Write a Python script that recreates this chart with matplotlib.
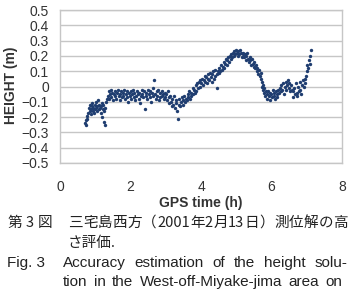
import numpy as np
import matplotlib
matplotlib.use("Agg")
import matplotlib.pyplot as plt

# GPS time (h) and height solution (m)
gps_time = [
    # start of session
    0.71, 0.73, 0.74, 0.76, 0.78, 0.80,
    0.82, 0.84, 0.85, 0.87, 0.88, 0.90, 0.91, 0.93, 0.95, 0.96,
    0.98, 1.00, 1.01, 1.03, 1.05, 1.06, 1.08, 1.10, 1.11, 1.13,
    1.15, 1.17, 1.18, 1.20, 1.21, 1.23, 1.24, 1.26, 1.27, 1.29, 1.31, 1.33,
    # flat part
    1.36, 1.38, 1.40, 1.42, 1.44, 1.46, 1.48, 1.51, 1.53, 1.55,
    1.57, 1.60, 1.62, 1.64, 1.66, 1.69, 1.71, 1.73, 1.75, 1.78,
    1.80, 1.82, 1.84, 1.87, 1.89, 1.91, 1.93, 1.96, 1.98, 2.00,
    2.02, 2.05, 2.07, 2.09, 2.11, 2.14, 2.16, 2.18, 2.20, 2.23,
    2.25, 2.27, 2.29, 2.32, 2.34, 2.36, 2.38, 2.41, 2.43, 2.45,
    2.47, 2.50, 2.52, 2.54, 2.56, 2.59, 2.61, 2.63, 2.65, 2.67,
    2.70, 2.72, 2.74, 2.76, 2.79, 2.81, 2.83, 2.85, 2.88, 2.90,
    2.92, 2.94, 2.97, 2.99,
    # small dip
    3.01, 3.03, 3.05, 3.08, 3.10, 3.12, 3.14, 3.17, 3.19, 3.21,
    3.23, 3.26, 3.28, 3.30, 3.32, 3.35, 3.37, 3.39, 3.41, 3.44,
    3.46, 3.48, 3.50, 3.53, 3.55, 3.57,
    # rise
    3.60, 3.62, 3.64, 3.67, 3.69, 3.71, 3.73, 3.76, 3.78, 3.80,
    3.82, 3.85, 3.87, 3.89, 3.91, 3.94, 3.96, 3.98,
    4.01, 4.03, 4.05, 4.08, 4.10, 4.12, 4.14, 4.17, 4.19, 4.21,
    4.23, 4.26, 4.28, 4.30, 4.32, 4.35, 4.37, 4.39, 4.41, 4.44, 4.46, 4.48,
    4.50, 4.52, 4.55, 4.57, 4.59, 4.61, 4.64, 4.66, 4.68, 4.70,
    4.73, 4.75, 4.77, 4.79, 4.82, 4.84,
    # peak
    4.86, 4.88, 4.91, 4.93, 4.95, 4.97, 5.00, 5.02, 5.04, 5.06,
    5.09, 5.11, 5.13, 5.15, 5.18,
    5.20, 5.22, 5.24, 5.27, 5.29, 5.31, 5.33, 5.36, 5.38, 5.40,
    5.42, 5.45, 5.47, 5.49, 5.51, 5.54,
    5.56, 5.58, 5.60, 5.63, 5.65, 5.67, 5.69, 5.71,
    5.73, 5.74, 5.76, 5.77, 5.79, 5.80, 5.82, 5.84,
    # trough
    5.86, 5.88, 5.90, 5.92, 5.95, 5.97, 5.99, 6.01, 6.04, 6.06,
    6.08, 6.10, 6.13, 6.15, 6.17, 6.19,
    6.22, 6.24, 6.26, 6.28, 6.31, 6.33, 6.35, 6.37, 6.40, 6.42,
    6.44, 6.46, 6.49, 6.51, 6.53, 6.55, 6.58,
    6.60, 6.62, 6.64, 6.67, 6.69, 6.71, 6.73, 6.76, 6.78, 6.80,
    6.82, 6.85, 6.87, 6.89, 6.91, 6.94,
    # final rise
    6.96, 6.98, 7.00, 7.02, 7.04, 7.06, 7.08, 7.10, 7.12,
]
height = [
    -0.24, -0.22, -0.25, -0.21, -0.19, -0.17,
    -0.14, -0.16, -0.12, -0.15, -0.18, -0.13, -0.11, -0.16, -0.14, -0.17,
    -0.12, -0.15, -0.10, -0.14, -0.16, -0.13, -0.09, -0.15, -0.12, -0.14,
    -0.13, -0.17, -0.11, -0.20, -0.15, -0.12, -0.23, -0.16, -0.25, -0.14, -0.10, -0.08,
    -0.06, -0.03, -0.08, -0.05, -0.02, -0.07, -0.04, -0.09, -0.05, -0.03,
    -0.06, -0.08, -0.04, -0.02, -0.06, -0.05, -0.09, -0.03, -0.07, -0.04,
    -0.06, -0.02, -0.08, -0.05, -0.03, -0.07, -0.10, -0.04, -0.06, -0.03,
    -0.08, -0.05, -0.02, -0.07, -0.04, -0.09, -0.06, -0.03, -0.05, -0.08,
    -0.04, -0.11, -0.06, -0.02, -0.05, -0.07, -0.03, -0.15, -0.06, -0.04,
    -0.08, -0.02, -0.05, -0.07, -0.03, -0.10, -0.04, -0.06, -0.01, 0.04,
    -0.05, -0.08, -0.03, -0.06, -0.02, -0.09, -0.04, -0.07, -0.03, -0.06,
    -0.05, -0.08, -0.04, -0.07,
    -0.05, -0.09, -0.03, -0.07, -0.11, -0.06, -0.10, -0.13, -0.08, -0.12,
    -0.06, -0.14, -0.09, -0.11, -0.16, -0.21, -0.12, -0.08, -0.13, -0.10,
    -0.07, -0.12, -0.09, -0.06, -0.10, -0.08,
    -0.09, -0.05, -0.07, -0.03, -0.08, -0.04, -0.06, -0.01, -0.05, -0.02,
    -0.04, 0.01, -0.03, 0.02, -0.01, 0.03, 0.00, 0.04,
    0.02, 0.05, 0.01, 0.04, 0.07, 0.03, 0.06, 0.02, 0.08, 0.05,
    0.04, 0.09, 0.06, 0.03, 0.08, 0.10, 0.05, 0.07, 0.11, 0.08, -0.01, 0.10,
    0.09, 0.12, 0.10, 0.14, 0.11, 0.13, 0.16, 0.12, 0.15, 0.18,
    0.14, 0.17, 0.19, 0.16, 0.20, 0.18,
    0.21, 0.19, 0.22, 0.20, 0.23, 0.21, 0.24, 0.22, 0.20, 0.23,
    0.21, 0.24, 0.22, 0.19, 0.21,
    0.22, 0.19, 0.21, 0.17, 0.20, 0.22, 0.18, 0.16, 0.19, 0.17,
    0.14, 0.18, 0.15, 0.13, 0.16, 0.12,
    0.14, 0.10, 0.12, 0.08, 0.11, 0.07, 0.09, 0.05,
    0.03, 0.00, -0.02, 0.01, -0.04, -0.01, -0.06, -0.03,
    -0.05, -0.08, -0.03, -0.06, -0.04, -0.09, -0.05, -0.07, -0.02, -0.06,
    -0.04, -0.08, -0.03, -0.05, -0.07, -0.02,
    -0.04, -0.01, -0.03, 0.01, -0.02, 0.02, -0.05, 0.00, 0.03, -0.02,
    0.01, 0.04, -0.01, 0.02, -0.03, 0.01, -0.02,
    -0.03, -0.07, -0.01, -0.05, 0.02, -0.04, -0.06, 0.00, -0.03, 0.03,
    -0.02, -0.05, 0.01, 0.04, 0.00, 0.05,
    0.02, 0.07, 0.10, 0.14, 0.12, 0.17, 0.15, 0.20, 0.24,
]
assert len(gps_time) == len(height), (len(gps_time), len(height))

x_ticks = [0, 2, 4, 6, 8]
y_ticks = [-0.5, -0.4, -0.3, -0.2, -0.1, 0, 0.1, 0.2, 0.3, 0.4, 0.5]
y_ticklabels = ["\u22120.5", "\u22120.4", "\u22120.3", "\u22120.2", "\u22120.1",
                "0", "0.1", "0.2", "0.3", "0.4", "0.5"]

caption_jp_no = ["第", "3", "図"]
caption_jp_1 = ["三", "宅", "島", "西", "方", "（", "2001", "年", "2", "月", "13",
                "日", "）", "測", "位", "解", "の", "高"]
caption_jp_2 = "さ評価."
caption_en_no = "Fig. 3"
caption_en_1 = ["Accuracy", "estimation", "of", "the", "height", "solu-"]
caption_en_2 = ["tion", "in", "the", "West-off-Miyake-jima", "area", "on"]

W, H = 349, 293
fig = plt.figure(figsize=(W / 100, H / 100), dpi=100)
fig.patch.set_facecolor("white")

# plot box in pixels: left 60, right 342, top 10, bottom 163
ax = fig.add_axes([60 / W, 1 - 163 / H, 282 / W, 153 / H])
ax.scatter(gps_time, height, s=6, color="#1f3d70", linewidths=0, zorder=3)

ax.set_xlim(0, 8)
ax.set_ylim(-0.5, 0.5)
ax.set_xticks(x_ticks)
ax.set_yticks(y_ticks)
ax.set_yticklabels(y_ticklabels)
ax.tick_params(length=0, labelsize=10, labelcolor="#333333")
ax.tick_params(axis="x", pad=12)
ax.tick_params(axis="y", pad=8)
for lab in ax.get_xticklabels() + ax.get_yticklabels():
    lab.set_family("Liberation Sans")

ax.grid(axis="y", color="#c6c6c6", linewidth=1.0)
ax.set_axisbelow(True)
for sp in ax.spines.values():
    sp.set_color("#c6c6c6")
    sp.set_linewidth(1.0)

# axis titles
fig.text(201 / W, 1 - 203 / H, "GPS time (h)", ha="center", va="center",
         fontsize=10, fontweight="bold", color="#333333", family="Liberation Sans")
fig.text(11 / W, 1 - 85 / H, "HEIGHT (m)", ha="center", va="center", rotation=90,
         fontsize=10, fontweight="bold", color="#333333", family="Liberation Sans")

# caption
renderer = fig.canvas.get_renderer()
jp = dict(fontsize=10.5, color="#222222", family=["Noto Sans CJK JP", "DejaVu Sans"])
en = dict(fontsize=11, color="#222222", family="Liberation Sans")


def justify(tokens, x0, x1, y, va, **kw):
    texts = [fig.text(0, 0, t, va=va, **kw) for t in tokens]
    widths = [t.get_window_extent(renderer).width for t in texts]
    gap = (x1 - x0 - sum(widths)) / (len(tokens) - 1)
    x = x0
    for t, w in zip(texts, widths):
        t.set_position((x / W, 1 - y / H))
        x += w + gap


justify(caption_jp_no, 8, 52, 223, "center", **jp)
justify(caption_jp_1, 68, 348, 223, "center", **jp)
fig.text(68 / W, 1 - 243 / H, caption_jp_2, va="center", **jp)
fig.text(7 / W, 1 - 267 / H, caption_en_no, va="baseline", **en)
justify(caption_en_1, 63, 347, 267, "baseline", **en)
justify(caption_en_2, 63, 342, 286, "baseline", **en)

fig.savefig("out.png", dpi=100)
